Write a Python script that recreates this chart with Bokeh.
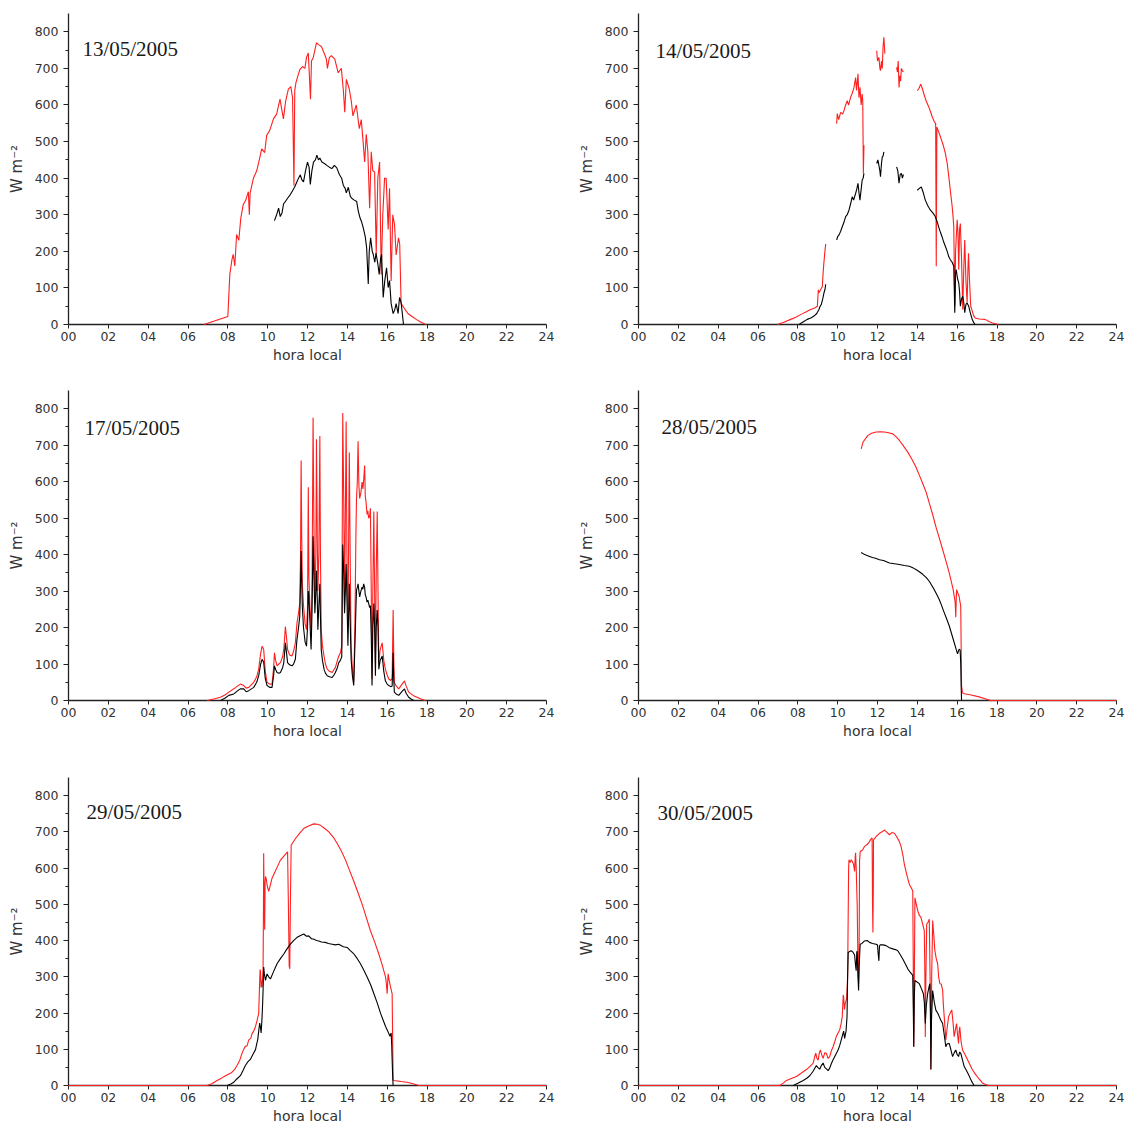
import numpy as np
from bokeh.plotting import figure
from bokeh.layouts import column, row
from bokeh.models import FixedTicker
from bokeh.embed import file_html
from bokeh.resources import INLINE
from bokeh.core.properties import value

# ---------------- data ----------------
dates = ["13/05/2005", "14/05/2005", "17/05/2005", "28/05/2005", "29/05/2005", "30/05/2005"]
x_ticks = list(range(0, 25, 2))
x_tick_labels = ["%02d" % t for t in x_ticks]
y_ticks = list(range(0, 801, 100))
y_minor = list(range(50, 800, 100))
GAP = (None, None)

# hour, W m-2
p1_red = [(6.8,0),(8.0,22),(8.1,137),(8.2,175),(8.27,192),(8.35,160),(8.44,246),(8.55,230),(8.65,290),(8.77,327),
          (8.9,340),(9.03,363),(9.08,300),(9.12,360),(9.28,399),(9.45,420),(9.6,455),(9.7,480),(9.85,470),(9.95,517),
          (10.1,530),(10.29,562),(10.45,575),(10.62,616),(10.7,590),(10.79,562),(10.9,610),(11.04,643),(11.16,650),
          (11.25,620),(11.32,380),(11.36,640),(11.42,661),(11.52,680),(11.62,697),(11.75,705),(11.87,700),(11.95,730),
          (12.04,742),(12.15,616),(12.2,720),(12.29,730),(12.45,770),(12.55,765),(12.7,760),(12.85,740),(12.95,725),
          (13.0,700),(13.1,730),(13.2,735),(13.37,725),(13.54,688),(13.7,700),(13.8,640),(13.87,580),(13.95,670),
          (14.1,643),(14.2,610),(14.28,570),(14.45,600),(14.6,535),(14.7,560),(14.78,508),(14.87,444),(14.95,520),
          (15.03,472),(15.12,318),(15.2,472),(15.28,420),(15.37,417),(15.45,192),(15.53,400),(15.62,444),(15.7,137),
          (15.78,300),(15.87,400),(15.95,399),(16.05,260),(16.12,372),(16.2,119),(16.28,300),(16.37,273),(16.45,190),
          (16.57,237),(16.63,220),(16.7,57),(16.85,45),(17.04,30),(17.25,22),(17.46,14),(17.7,6),(17.96,0)]
p1_black = [(10.34,284),(10.45,300),(10.55,318),(10.63,295),(10.72,305),(10.8,330),(10.89,336),(11.0,345),(11.1,352),
            (11.22,363),(11.35,375),(11.47,390),(11.55,400),(11.64,409),(11.72,395),(11.8,390),(11.9,420),(12.0,444),
            (12.08,430),(12.14,383),(12.22,420),(12.3,444),(12.4,450),(12.47,463),(12.55,450),(12.62,455),(12.72,444),
            (12.85,440),(12.97,435),(13.1,430),(13.22,426),(13.35,435),(13.47,428),(13.6,410),(13.72,399),(13.8,380),
            (13.89,372),(13.95,360),(14.05,375),(14.15,350),(14.22,345),(14.35,340),(14.47,336),(14.55,310),(14.64,291),
            (14.72,280),(14.8,264),(14.9,240),(14.97,209),(15.05,111),(15.1,200),(15.17,237),(15.25,200),(15.3,192),
            (15.38,170),(15.44,195),(15.52,170),(15.6,137),(15.67,180),(15.72,192),(15.8,74),(15.88,120),(15.97,155),
            (16.05,101),(16.12,120),(16.2,57),(16.3,30),(16.38,40),(16.45,57),(16.55,30),(16.62,74),(16.7,60),(16.82,0)]

p2_red = [(6.97,0),(7.3,6),(7.64,14),(7.9,20),(8.14,27),(8.4,34),(8.64,41),(8.85,45),(8.98,50),(9.03,95),(9.06,87),
          (9.14,95),(9.23,104),(9.28,150),(9.35,195),(9.4,220), GAP,
          (9.95,549),(9.98,576),(10.05,560),(10.15,580),(10.25,575),(10.32,585),(10.4,600),(10.48,612),(10.55,600),
          (10.65,621),(10.72,630),(10.82,648),(10.9,675),(10.95,640),(11.02,685),(11.07,620),(11.12,648),(11.18,600),
          (11.23,630),(11.26,610),(11.29,413),(11.32,490), GAP,
          (11.96,748),(12.0,720),(12.07,730),(12.12,700),(12.15,694),(12.2,720),(12.24,700),(12.28,760),(12.32,785),
          (12.37,740), GAP,
          (12.96,703),(13.0,690),(13.04,720),(13.08,648),(13.12,680),(13.16,665),(13.2,700),(13.25,694),(13.3,690), GAP,
          (14.0,639),(14.08,645),(14.17,657),(14.25,645),(14.33,630),(14.45,610),(14.58,594),(14.67,580),(14.75,567),
          (14.85,555),(14.92,549),(14.95,159),(14.98,540),(15.08,525),(15.16,513),(15.3,490),(15.41,467),(15.5,440),
          (15.58,404),(15.67,360),(15.75,322),(15.8,290),(15.83,267),(15.88,50),(15.92,200),(16.0,286),(16.04,250),
          (16.08,150),(16.12,260),(16.16,276),(16.22,180),(16.28,41),(16.33,150),(16.38,231),(16.44,120),(16.5,60),
          (16.54,150),(16.57,195),(16.62,120),(16.68,50),(16.74,40),(16.82,25),(16.9,18),(17.1,15),(17.4,14),
          (17.6,8),(17.74,5),(18.07,0)]
p2_black = [(8.06,0),(8.3,8),(8.47,14),(8.65,18),(8.81,23),(8.95,30),(9.06,41),(9.12,50),(9.18,55),(9.25,70),(9.31,86),
            (9.36,95),(9.4,110), GAP,
            (9.95,231),(10.0,240),(10.07,245),(10.15,255),(10.23,267),(10.32,280),(10.4,295),(10.48,300),(10.57,313),
            (10.65,330),(10.73,349),(10.8,340),(10.9,358),(10.96,370),(11.02,386),(11.07,360),(11.12,340),(11.18,370),
            (11.23,394),(11.28,400),(11.32,413), GAP,
            (11.96,440),(12.02,450),(12.07,435),(12.12,420),(12.15,404),(12.2,440),(12.24,458),(12.28,460),(12.32,472), GAP,
            (12.96,431),(13.02,420),(13.08,386),(13.14,410),(13.2,413),(13.25,400),(13.3,410), GAP,
            (14.0,367),(14.1,372),(14.2,376),(14.3,360),(14.4,340),(14.52,325),(14.65,313),(14.78,305),(14.9,295),
            (15.0,280),(15.07,267),(15.16,252),(15.24,240),(15.32,226),(15.41,213),(15.5,200),(15.58,185),(15.66,177),
            (15.75,170),(15.83,159),(15.88,32),(15.92,140),(15.95,150),(16.02,125),(16.08,113),(16.12,90),(16.16,50),
            (16.22,70),(16.28,77),(16.33,60),(16.38,32),(16.44,55),(16.5,59),(16.58,50),(16.66,32),(16.75,15),
            (16.83,5),(16.9,0)]

p3_red = [(6.96,0),(7.3,4),(7.63,9),(7.85,15),(8.05,23),(8.3,32),(8.5,40),(8.63,45),(8.8,41),(8.92,34),(9.05,36),
          (9.3,50),(9.45,65),(9.55,86),(9.65,130),(9.72,149),(9.8,140),(9.88,80),(9.97,50),(10.1,45),(10.22,45),
          (10.3,90),(10.34,131),(10.4,110),(10.47,95),(10.56,100),(10.64,104),(10.75,120),(10.81,140),(10.89,203),
          (10.95,170),(11.0,140),(11.1,125),(11.22,122),(11.3,135),(11.39,158),(11.47,212),(11.55,240),(11.61,266),
          (11.65,400),(11.68,658),(11.71,450),(11.74,320),(11.8,260),(11.88,210),(11.95,194),(12.0,250),(12.04,585),
          (12.07,338),(12.12,260),(12.18,194),(12.23,330),(12.28,775),(12.32,500),(12.37,266),(12.42,400),(12.45,716),
          (12.49,450),(12.52,300),(12.57,400),(12.62,725),(12.65,400),(12.69,194),(12.75,150),(12.83,122),(12.9,100),
          (12.99,86),(13.1,80),(13.24,77),(13.33,85),(13.4,90),(13.5,110),(13.57,122),(13.65,130),(13.72,150),
          (13.77,788),(13.82,550),(13.86,266),(13.9,500),(13.94,765),(13.98,400),(14.03,200),(14.1,680),(14.15,350),
          (14.19,149),(14.25,90),(14.32,50),(14.38,200),(14.43,450),(14.46,554),(14.5,600),(14.54,711),(14.58,590),
          (14.62,554),(14.68,570),(14.74,599),(14.78,580),(14.82,604),(14.87,644),(14.9,560),(14.94,544),(14.99,510),
          (15.03,520),(15.07,500),(15.12,505),(15.16,527),(15.2,300),(15.24,59),(15.28,300),(15.33,518),(15.37,300),
          (15.41,104),(15.45,350),(15.5,518),(15.54,300),(15.58,104),(15.65,140),(15.75,158),(15.83,110),(15.91,86),
          (16.0,70),(16.08,59),(16.18,55),(16.25,60),(16.3,248),(16.33,120),(16.36,50),(16.45,40),(16.58,32),
          (16.75,45),(16.87,54),(16.95,40),(17.08,23),(17.3,14),(17.5,9),(17.7,4),(17.92,0)]
p3_black = [(7.63,0),(7.85,6),(8.05,14),(8.3,18),(8.5,27),(8.63,32),(8.8,32),(8.92,24),(9.05,27),(9.3,36),(9.45,50),
            (9.55,68),(9.65,100),(9.72,113),(9.8,105),(9.88,60),(9.97,41),(10.1,36),(10.22,36),(10.3,70),(10.34,95),
            (10.4,85),(10.47,77),(10.56,75),(10.64,77),(10.75,90),(10.81,104),(10.89,158),(10.95,130),(11.0,104),
            (11.1,98),(11.22,95),(11.3,100),(11.39,113),(11.47,167),(11.55,200),(11.61,230),(11.65,320),(11.68,410),
            (11.71,330),(11.74,257),(11.8,200),(11.88,160),(11.95,149),(12.0,200),(12.04,300),(12.07,284),(12.12,220),
            (12.18,140),(12.23,250),(12.28,450),(12.32,350),(12.37,239),(12.42,300),(12.45,356),(12.49,280),(12.52,194),
            (12.57,260),(12.62,320),(12.65,230),(12.69,140),(12.75,110),(12.83,86),(12.9,75),(12.99,68),(13.1,65),
            (13.24,63),(13.33,70),(13.4,77),(13.5,90),(13.57,104),(13.65,110),(13.72,120),(13.77,428),(13.82,350),
            (13.86,239),(13.9,300),(13.94,374),(13.98,280),(14.03,150),(14.1,320),(14.15,200),(14.19,113),(14.25,70),
            (14.32,41),(14.38,150),(14.43,250),(14.46,302),(14.5,310),(14.54,320),(14.58,300),(14.62,284),(14.68,300),
            (14.74,311),(14.78,305),(14.82,320),(14.87,310),(14.9,290),(14.94,284),(14.99,270),(15.03,275),(15.07,266),
            (15.12,255),(15.16,260),(15.2,180),(15.24,41),(15.28,200),(15.33,266),(15.37,200),(15.41,68),(15.45,200),
            (15.5,248),(15.54,200),(15.58,86),(15.65,110),(15.75,122),(15.83,80),(15.91,54),(16.0,45),(16.08,41),
            (16.18,38),(16.25,40),(16.3,131),(16.33,60),(16.36,23),(16.45,18),(16.58,14),(16.75,25),(16.87,32),
            (16.95,20),(17.08,9),(17.2,4),(17.33,0)]

p4_red = [(11.18,690),(11.27,708),(11.4,718),(11.52,727),(11.7,733),(11.93,736),(12.15,737),(12.35,736),(12.55,734),
          (12.77,731),(12.95,722),(13.1,713),(13.3,698),(13.52,681),(13.72,662),(13.93,640),(14.1,618),(14.27,595),
          (14.45,570),(14.6,541),(14.77,510),(14.93,477),(15.1,446),(15.27,414),(15.45,380),(15.6,350),(15.7,327),
          (15.8,304),(15.87,280),(15.9,269),(15.93,228),(15.95,270),(15.97,304),(16.03,295),(16.1,285),(16.18,258),
          (16.2,150),(16.22,40),(16.26,25),(16.3,19),(16.7,15),(17.1,10),(17.4,5),(17.68,0),(24,0)]
p4_black = [(11.18,406),(11.3,402),(11.45,398),(11.6,395),(11.75,392),(11.9,390),(12.1,386),(12.3,384),(12.6,377),
            (12.85,375),(13.1,373),(13.35,370),(13.6,368),(13.8,363),(13.93,359),(14.1,353),(14.27,346),(14.45,337),
            (14.6,327),(14.72,316),(14.85,304),(14.97,291),(15.1,277),(15.22,260),(15.35,241),(15.47,224),(15.6,205),
            (15.72,183),(15.85,159),(15.95,140),(16.02,128),(16.06,135),(16.1,141),(16.15,138),(16.18,100),(16.2,40),
            (16.22,0)]

p5_red = [(0,0),(6.96,0),(7.2,5),(7.46,14),(7.7,21),(7.88,27),(8.05,32),(8.2,36),(8.35,45),(8.46,55),(8.6,70),
          (8.72,90),(8.8,100),(8.88,108),(8.97,110),(9.05,126),(9.15,130),(9.22,144),(9.3,150),(9.39,163),(9.47,180),
          (9.55,199),(9.6,290),(9.62,320),(9.64,316),(9.67,270),(9.69,290),(9.72,272),(9.75,300),(9.77,327),(9.79,500),
          (9.8,641),(9.82,520),(9.85,430),(9.87,560),(9.89,577),(9.93,570),(9.97,554),(10.01,545),(10.05,536),
          (10.12,550),(10.22,572),(10.64,622),(11.0,645),(11.04,500),(11.08,330),(11.11,322),(11.14,500),(11.18,663),
          (11.39,681),(11.6,696),(11.81,709),(12.05,716),(12.32,722),(12.5,721),(12.65,718),(12.85,710),(13.07,700),
          (13.3,685),(13.49,668),(13.7,647),(13.91,622),(14.1,595),(14.33,563),(14.55,530),(14.75,499),(14.95,464),
          (15.16,427),(15.38,395),(15.58,363),(15.75,333),(15.92,299),(15.96,280),(16.0,253),(16.03,290),(16.05,308),
          (16.1,290),(16.17,272),(16.22,260),(16.25,253),(16.28,100),(16.3,18),(16.33,14),(16.7,11),(17.0,9),
          (17.3,5),(17.59,0),(24,0)]
p5_black = [(7.97,0),(8.15,4),(8.3,9),(8.45,18),(8.63,27),(8.75,40),(8.88,55),(9.0,65),(9.13,72),(9.25,85),(9.39,99),
            (9.45,115),(9.5,126),(9.55,150),(9.6,172),(9.64,160),(9.67,145),(9.7,170),(9.72,190),(9.75,230),(9.77,263),
            (9.8,327),(9.83,310),(9.86,300),(9.89,290),(9.93,300),(9.97,308),(10.05,300),(10.14,294),(10.3,315),
            (10.47,336),(10.64,350),(10.81,363),(10.97,377),(11.14,390),(11.3,400),(11.48,409),(11.65,414),(11.81,418),
            (11.95,412),(12.06,413),(12.2,405),(12.32,404),(12.45,400),(12.57,399),(12.7,396),(12.9,395),(13.05,392),
            (13.24,390),(13.4,388),(13.57,390),(13.8,383),(13.99,381),(14.15,372),(14.33,363),(14.5,350),(14.66,336),
            (14.83,318),(15.0,299),(15.17,278),(15.33,254),(15.5,228),(15.67,199),(15.8,180),(15.92,163),(16.03,150),
            (16.14,136),(16.2,145),(16.23,110),(16.25,72),(16.28,20),(16.3,0)]

p6_red = [(0,0),(7.1,0),(7.3,8),(7.43,14),(7.7,20),(7.93,25),(8.2,35),(8.43,44),(8.6,52),(8.77,62),(8.85,80),(8.9,89),
          (8.96,75),(9.02,70),(9.08,90),(9.13,98),(9.2,85),(9.27,75),(9.35,90),(9.43,89),(9.52,75),(9.6,80),(9.68,95),
          (9.77,107),(9.85,120),(9.93,135),(10.02,145),(10.1,153),(10.17,170),(10.23,190),(10.28,250),(10.3,244),
          (10.34,210),(10.38,226),(10.45,240),(10.5,300),(10.55,600),(10.57,623),(10.62,615),(10.68,623),(10.73,619),
          (10.8,610),(10.85,591),(10.88,630),(10.9,642),(10.93,600),(10.98,500),(11.02,330),(11.05,281),(11.08,400),
          (11.1,620),(11.13,646),(11.25,650),(11.35,660),(11.48,665),(11.6,673),(11.67,680),(11.73,683),(11.75,500),
          (11.77,422),(11.79,550),(11.8,678),(11.95,688),(12.1,696),(12.23,700),(12.35,705),(12.45,700),(12.6,692),
          (12.72,698),(12.85,696),(12.95,688),(13.1,673),(13.18,660),(13.27,637),(13.35,610),(13.43,591),(13.5,575),
          (13.6,555),(13.7,545),(13.77,537),(13.8,300),(13.82,107),(13.85,300),(13.88,518),(13.95,500),(14.02,482),
          (14.1,470),(14.18,464),(14.27,445),(14.35,427),(14.38,300),(14.4,134),(14.43,300),(14.47,445),(14.53,450),
          (14.6,459),(14.64,300),(14.68,44),(14.72,300),(14.77,455),(14.82,420),(14.88,372),(14.95,350),(15.02,336),
          (15.07,300),(15.13,281),(15.2,280),(15.27,263),(15.31,220),(15.35,190),(15.4,150),(15.43,126),(15.5,160),
          (15.57,190),(15.65,200),(15.73,208),(15.8,170),(15.85,135),(15.9,150),(15.97,171),(16.02,140),(16.07,116),
          (16.1,150),(16.13,162),(16.2,120),(16.27,98),(16.4,85),(16.6,62),(16.75,45),(16.93,30),(17.1,18),
          (17.27,7),(17.45,2),(17.6,0),(24,0)]
p6_black = [(7.77,0),(8.0,6),(8.27,14),(8.45,20),(8.6,27),(8.75,38),(8.93,55),(9.0,50),(9.1,45),(9.18,55),(9.27,62),
            (9.35,50),(9.45,45),(9.52,41),(9.6,48),(9.68,60),(9.77,71),(9.9,85),(10.02,98),(10.1,110),(10.18,126),
            (10.25,140),(10.3,150),(10.35,130),(10.42,150),(10.47,190),(10.5,300),(10.53,367),(10.6,370),(10.68,372),
            (10.77,368),(10.85,360),(10.9,330),(10.93,317),(10.96,370),(10.98,370),(11.02,300),(11.05,262),(11.08,330),
            (11.13,390),(11.22,392),(11.35,399),(11.48,400),(11.6,395),(11.75,392),(11.93,390),(12.0,388),(12.04,360),
            (12.07,344),(12.1,385),(12.13,388),(12.28,388),(12.43,386),(12.6,380),(12.77,377),(12.9,375),(13.02,372),
            (13.15,360),(13.27,349),(13.4,335),(13.52,322),(13.65,312),(13.77,304),(13.8,200),(13.82,107),(13.85,250),
            (13.88,290),(14.0,285),(14.1,281),(14.2,268),(14.3,254),(14.35,230),(14.4,171),(14.45,220),(14.52,254),
            (14.58,270),(14.63,281),(14.66,200),(14.68,44),(14.71,180),(14.77,262),(14.85,230),(14.93,208),(15.02,200),
            (15.1,190),(15.18,180),(15.27,171),(15.35,140),(15.43,107),(15.5,115),(15.6,116),(15.68,100),(15.77,80),
            (15.85,90),(15.93,98),(16.0,85),(16.07,80),(16.12,92),(16.18,89),(16.27,70),(16.35,53),(16.48,40),
            (16.6,27),(16.72,12),(16.85,0)]


def unzip(pairs):
    h = np.array([np.nan if a is None else a for a, b in pairs], dtype=float)
    v = np.array([np.nan if b is None else b for a, b in pairs], dtype=float)
    return h, v


TICK_FONT = "DejaVu Sans"
RED = "#ff1f1f"


def make_panel(date, red, black, b_left, b_right, b_top, b_bottom, date_pos):
    p = figure(width=565, height=377, x_range=(0, 24), y_range=(0, 850),
               output_backend="svg", toolbar_location=None,
               min_border_left=b_left, min_border_right=b_right,
               min_border_top=b_top, min_border_bottom=b_bottom)
    p.outline_line_color = None
    p.xgrid.visible = False
    p.ygrid.visible = False
    p.background_fill_color = "white"
    p.border_fill_color = "white"

    p.xaxis.ticker = FixedTicker(ticks=x_ticks, minor_ticks=[])
    p.xaxis.major_label_overrides = {t: s for t, s in zip(x_ticks, x_tick_labels)}
    p.yaxis.ticker = FixedTicker(ticks=y_ticks, minor_ticks=y_minor)
    p.xaxis.axis_label = "hora local"
    p.yaxis.axis_label = "W m\u207b\u00b2"
    for ax in (p.xaxis[0], p.yaxis[0]):
        ax.axis_line_color = "#222222"
        ax.axis_line_width = 1.3
        ax.major_tick_line_color = "#222222"
        ax.minor_tick_line_color = "#222222"
        ax.major_tick_in = 0
        ax.minor_tick_in = 0
        ax.major_label_text_font = TICK_FONT
        ax.major_label_text_font_size = "12.5px"
        ax.major_label_text_color = "#333333"
        ax.axis_label_text_font = TICK_FONT
        ax.axis_label_text_font_size = "14px"
        ax.axis_label_text_font_style = "normal"
        ax.axis_label_text_color = "#333333"
    p.yaxis.axis_label_text_font_size = "15px"
    p.xaxis.major_tick_out = 4
    p.xaxis.minor_tick_out = 0
    p.xaxis.major_label_standoff = 3
    p.xaxis.axis_label_standoff = 3
    p.yaxis.major_tick_out = 5
    p.yaxis.minor_tick_out = 3
    p.yaxis.major_label_standoff = 5
    p.yaxis.axis_label_standoff = 6

    rh, rv = unzip(red)
    bh, bv = unzip(black)
    p.line(rh, rv, line_color=RED, line_width=1.1, level="overlay")
    p.line(bh, bv, line_color="#000000", line_width=1.1, level="overlay")

    p.text(x=[date_pos[0]], y=[date_pos[1]], text=[date],
           text_font=value("Liberation Serif"), text_font_size="21px",
           text_baseline="middle", text_align="left", text_color="#1a1a1a")
    return p


p1 = make_panel(dates[0], p1_red, p1_black, 68, 19, 11, 53, (0.7, 752))
p2 = make_panel(dates[1], p2_red, p2_black, 73, 14, 13, 52, (0.85, 748))
p3 = make_panel(dates[2], p3_red, p3_black, 68, 19, 9, 54, (0.8, 746))
p4 = make_panel(dates[3], p4_red, p4_black, 73, 14, 13, 52, (1.15, 751))
p5 = make_panel(dates[4], p5_red, p5_black, 68, 19, 20, 46, (0.9, 756))
p6 = make_panel(dates[5], p6_red, p6_black, 73, 14, 23, 44, (0.95, 753))

layout = column(row(p1, p2), row(p3, p4), row(p5, p6))

open("out.html", "w").write(file_html(layout, INLINE))
